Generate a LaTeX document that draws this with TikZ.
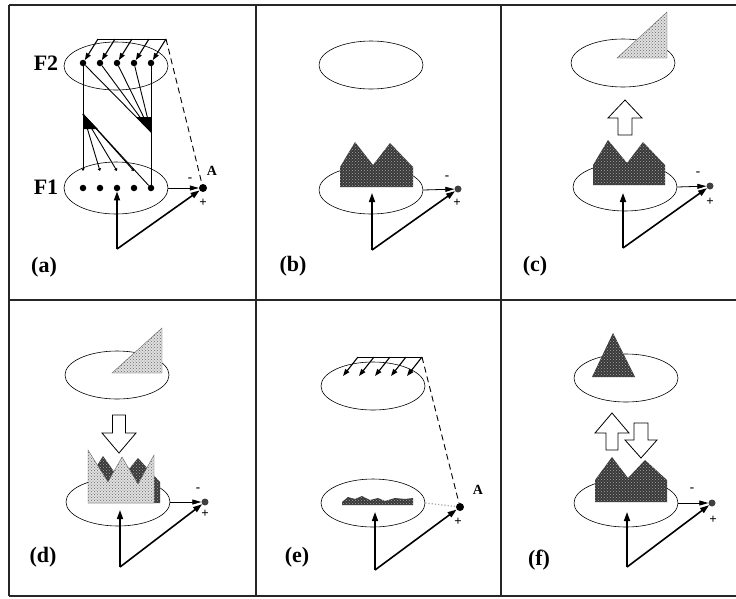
\documentclass[tikz,border=0pt]{standalone}
\usepackage{fontspec}
\setmainfont{Liberation Serif}
\usetikzlibrary{arrows.meta,shapes.geometric,patterns}
\begin{document}
\begin{tikzpicture}[x=1pt,y=-1pt,
  frame/.style={line width=1.3pt,black!85},
  ell/.style={draw,ellipse,inner sep=0pt,minimum width=104pt,minimum height=48pt,line width=0.6pt},
  fdot/.style={circle,fill,inner sep=0pt,minimum size=6.5pt},
  adot/.style={circle,fill,inner sep=0pt,minimum size=8pt},
  sdot/.style={circle,fill=black!75,inner sep=0pt,minimum size=7pt},
  inarr/.style={line width=1.6pt,-{Triangle[length=9pt,width=6pt]}},
  outarr/.style={line width=0.8pt,-{Triangle[length=9pt,width=5pt]}},
  wire/.style={line width=0.9pt},
  smallhead/.style={line width=1.1pt,-{Triangle[length=7pt,width=5pt]}},
  tick/.style={wire,-{Latex[length=2.5pt,width=4pt]}},
  darkfill/.style={fill=black!78,postaction={pattern=crosshatch dots,pattern color=black!35}},
  lightfill/.style={fill=black!12,draw=black!60,line width=0.4pt,postaction={pattern=crosshatch dots,pattern color=black!60}},
  blockarr/.style={draw,fill=white,line width=0.8pt},
  lab/.style={font=\fontsize{22}{24}\selectfont\bfseries,inner sep=0pt},
  flab/.style={font=\fontsize{22}{24}\selectfont\bfseries,inner sep=0pt},
  sign/.style={font=\fontsize{13}{14}\selectfont\bfseries,inner sep=0pt},
  alab/.style={font=\fontsize{14}{15}\selectfont\bfseries,inner sep=0pt},
]
\useasboundingbox (0,0) rectangle (736,598);
% frame
\draw[frame] (9,5) -- (736,5);
\draw[frame] (9,300) -- (736,300);
\draw[frame] (9,596) -- (736,596);
\draw[frame] (9,5) -- (9,596);
\draw[frame] (256,5) -- (256,596);
\draw[frame] (501,5) -- (501,596);

% ---------------- panel (a)
\node[ell] (a2) at (116,66) {};
\node[ell,minimum height=52pt] (a1) at (116,188) {};
\foreach \i/\x in {1/83,2/100,3/117,4/134,5/151}{
  \node[fdot] (at\i) at (\x,63) {};
  \node[fdot] (ab\i) at (\x,188) {};
  \coordinate (az\i) at (\x+15,39);
  \coordinate (ak\i) at (\x,171);
}
\node[flab] (lF2) at (46,63) {F2};
\node[flab] (lF1) at (46,187) {F1};
\draw[wire] (az1) -- (az5);
\foreach \i in {1,...,5} \draw[smallhead] (az\i) -- (at\i);
\coordinate (aL) at (83,114);
\coordinate (aR) at (151,132);
\draw[tick] (at1) -- (ak1);
\draw[wire] (at5) -- (ab5);
\foreach \i in {1,...,4} \draw[wire] (at\i) -- (aR);
\foreach \i in {2,3,4} \draw[tick] (aL) -- (ak\i);
\draw[wire] (aL) -- (ab5);
\fill (83,114) -- (98,129) -- (83,129) -- cycle;
\fill (151,132) -- (136,117) -- (151,117) -- cycle;
\node[adot] (aA) at (203,188) {};
\node[alab] (aAl) at (212,171) {A};
\draw[wire,dashed,dash pattern=on 6pt off 4pt] (az5) -- (aA);
\draw[outarr] (a1.east) -- (aA);
\node[sign] (am) at (190,180) {-};
\node[sign] (ap) at (203,203) {+};
\coordinate (aP) at (117,249);
\draw[inarr] (aP) -- (ab3);
\draw[inarr] (aP) -- (aA);
\node[lab] (alab) at (44,267) {(a)};

% ---------------- panel (b)
\node[ell] (b2) at (371,65) {};
\node[ell] (b1) at (371,190) {};
\path[darkfill] (340,187) -- (340,167) -- (355,142) -- (373,165) -- (390,143) -- (413,167) -- (413,187) -- cycle;
\node[sdot] (bA) at (458,189) {};
\draw[outarr] (b1.east) -- (bA);
\node[sign] (bm) at (447,178) {-};
\node[sign] (bp) at (457,203) {+};
\coordinate (bP) at (372,250);
\coordinate (bU) at (372,193);
\draw[inarr] (bP) -- (bU);
\draw[inarr] (bP) -- (bA);
\node[lab] (blab) at (293,266) {(b)};

% ---------------- panel (c)
\node[ell] (c2) at (623,63) {};
\path[lightfill] (617,58) -- (667,12) -- (667,58) -- cycle;
\draw[blockarr] (618,135) -- (618,118) -- (608,118) -- (625,100) -- (642,118) -- (632,118) -- (632,135) -- cycle;
\node[ell] (c1) at (625,187) {};
\path[darkfill] (593,185) -- (593,165) -- (608,140) -- (627,163) -- (643,142) -- (665,165) -- (665,185) -- cycle;
\node[sdot] (cA) at (710,186) {};
\draw[outarr] (c1.east) -- (cA);
\node[sign] (cm) at (698,174) {-};
\node[sign] (cp) at (710,202) {+};
\coordinate (cP) at (623,248);
\coordinate (cU) at (623,193);
\draw[inarr] (cP) -- (cU);
\draw[inarr] (cP) -- (cA);
\node[lab] (clab) at (535,266) {(c)};

% ---------------- panel (d)
\node[ell] (d2) at (117,375) {};
\path[lightfill] (112,373) -- (162,328) -- (162,373) -- cycle;
\draw[blockarr] (112.5,415) -- (125.5,415) -- (125.5,433) -- (136,433) -- (119,453) -- (102,433) -- (112.5,433) -- cycle;
\node[ell] (d1) at (118,502) {};
\path[darkfill] (88,503) -- (88,480) -- (103,456) -- (120,480) -- (138,458) -- (160,482) -- (160,503) -- cycle;
\path[lightfill] (88,503) -- (88,450) -- (108,482) -- (122,457) -- (138,484) -- (154,455) -- (154,503) -- cycle;
\node[sdot] (dA) at (205,502) {};
\draw[outarr] (d1.east) -- (dA);
\node[sign] (dm) at (198,490) {-};
\node[sign] (dp) at (205,514) {+};
\coordinate (dP) at (120,567);
\coordinate (dU) at (120,510);
\draw[inarr] (dP) -- (dU);
\draw[inarr] (dP) -- (dA);
\node[lab] (dlab) at (43,557) {(d)};

% ---------------- panel (e)
\node[ell] (e2) at (373,386) {};
\foreach \i/\x in {1/343,2/359,3/375,4/391,5/407}{
  \coordinate (et\i) at (\x,376);
  \coordinate (ez\i) at (\x+15,357);
}
\draw[wire] (ez1) -- (ez5);
\foreach \i in {1,...,5} \draw[smallhead] (ez\i) -- (et\i);
\node[ell] (e1) at (373,503) {};
\path[darkfill] (342,505) -- (342,502) -- (348,497) -- (355,499) -- (362,496) -- (370,500) -- (378,498) -- (385,501) -- (395,498) -- (405,499) -- (413,498) -- (413,505) -- cycle;
\node[adot] (eA) at (460,507) {};
\node[alab] (eAl) at (478,490) {A};
\draw[wire,dashed,dash pattern=on 6pt off 4pt] (ez5) -- (eA);
\draw[black!35,line width=1.2pt,dotted] (e1.east) -- (eA);
\node[sign] (ep) at (458,522) {+};
\coordinate (eP) at (375,570);
\coordinate (eU) at (375,512);
\draw[inarr] (eP) -- (eU);
\draw[inarr] (eP) -- (eA);
\node[lab] (elab) at (297,557) {(e)};

% ---------------- panel (f)
\node[ell] (f2) at (626,378) {};
\path[darkfill] (592,377) -- (613,333) -- (635,377) -- cycle;
\draw[blockarr] (606,450) -- (606,433) -- (595,433) -- (612,413) -- (629,433) -- (618,433) -- (618,450) -- cycle;
\draw[blockarr] (634,423) -- (648,423) -- (648,440) -- (657,440) -- (641,458) -- (625,440) -- (634,440) -- cycle;
\node[ell] (f1) at (626,503) {};
\path[darkfill] (595,502) -- (595,480) -- (612,457) -- (628,478) -- (645,460) -- (667,480) -- (667,502) -- cycle;
\node[sdot] (fA) at (712,503) {};
\draw[outarr] (f1.east) -- (fA);
\node[sign] (fm) at (692,490) {-};
\node[sign] (fp) at (713,520) {+};
\coordinate (fP) at (627,567);
\coordinate (fU) at (627,512);
\draw[inarr] (fP) -- (fU);
\draw[inarr] (fP) -- (fA);
\node[lab] (flab) at (539,560) {(f)};
\end{tikzpicture}
\end{document}
